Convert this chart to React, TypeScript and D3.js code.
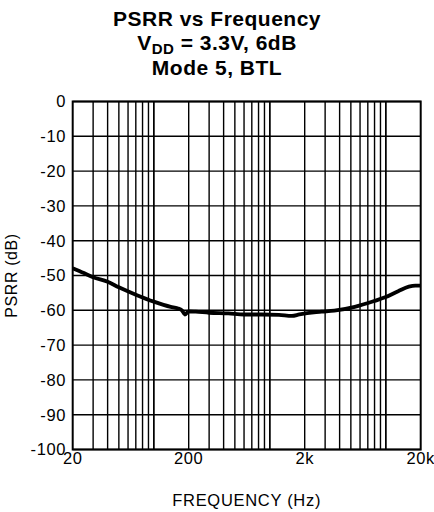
import * as d3 from "d3";

const freqs = [20, 25, 30, 40, 50, 70, 100, 140, 160, 175, 185, 200, 230, 300, 440, 600, 850, 1200, 1550, 1800, 2400, 2800, 3600, 5400, 8000, 10000, 12800, 15800, 18000, 20000];
const psrr = [-47.9, -49.3, -50.5, -51.8, -53.4, -55.5, -57.5, -59.0, -59.4, -60.0, -61.2, -60.3, -60.4, -60.7, -60.9, -61.2, -61.2, -61.3, -61.6, -61.2, -60.6, -60.4, -60.1, -59.0, -57.3, -56.2, -54.5, -53.2, -52.9, -52.9];
const yTicks = [0, -10, -20, -30, -40, -50, -60, -70, -80, -90, -100];
const xTicks = [20, 200, 2000, 20000];
const xTickLabels = ["20", "200", "2k", "20k"];

const App = () => {
  const width = 434;
  const height = 512;
  const left = 72.7;
  const right = 420.7;
  const top = 101.5;
  const bottom = 449.5;

  const x = d3.scaleLog().domain([20, 20000]).range([left, right]);
  const y = d3.scaleLinear().domain([0, -100]).range([top, bottom]);

  // minor log gridlines 2..9 per decade
  const gridX: number[] = [];
  [10, 100, 1000, 10000].forEach((dec) => {
    for (let m = 1; m <= 10; m++) {
      const f = dec * m;
      if (f > 20 && f < 20000) gridX.push(f);
    }
  });

  const line = d3
    .line<number>()
    .x((_, i) => x(freqs[i]))
    .y((d) => y(d))
    .curve(d3.curveMonotoneX);

  const font = "'Liberation Sans', Arial, Helvetica, sans-serif";

  return (
    <svg
      width={width}
      height={height}
      style={{ position: "absolute", left: 0, top: 0, background: "white" }}
      fontFamily={font}
    >
      <g fontWeight="bold" fontSize={21} textAnchor="middle" letterSpacing={0.5}>
        <text x={217} y={26}>PSRR vs Frequency</text>
        <text x={217} y={49.5}>
          V<tspan fontSize={15} dy={4}>DD</tspan>
          <tspan dy={-4}> = 3.3V, 6dB</tspan>
        </text>
        <text x={217} y={75}>Mode 5, BTL</text>
      </g>

      {gridX.map((f) => (
        <line key={f} x1={x(f)} x2={x(f)} y1={top} y2={bottom} stroke="#000" strokeWidth={1.4} />
      ))}
      {yTicks.map((t) => (
        <line key={t} x1={left} x2={right} y1={y(t)} y2={y(t)} stroke="#000" strokeWidth={1.4} />
      ))}
      <rect x={left} y={top} width={right - left} height={bottom - top} fill="none" stroke="#000" strokeWidth={2} />

      <path d={line(psrr) ?? ""} fill="none" stroke="#000" strokeWidth={3.8} strokeLinejoin="round" />

      <g fontSize={16.5} textAnchor="end" letterSpacing={0.6}>
        {yTicks.map((t) => (
          <text key={t} x={66} y={y(t)} dy="0.36em">{t}</text>
        ))}
      </g>
      <g fontSize={16.5} textAnchor="middle" letterSpacing={0.6}>
        {xTicks.map((t, i) => (
          <text key={t} x={x(t)} y={464}>{xTickLabels[i]}</text>
        ))}
      </g>
      <text x={(left + right) / 2} y={506} fontSize={16.5} textAnchor="middle" letterSpacing={0.7}>
        FREQUENCY (Hz)
      </text>
      <text
        transform={`translate(17, ${(top + bottom) / 2}) rotate(-90)`}
        fontSize={16}
        textAnchor="middle"
        letterSpacing={0.6}
      >
        PSRR (dB)
      </text>
    </svg>
  );
};

export default App;
